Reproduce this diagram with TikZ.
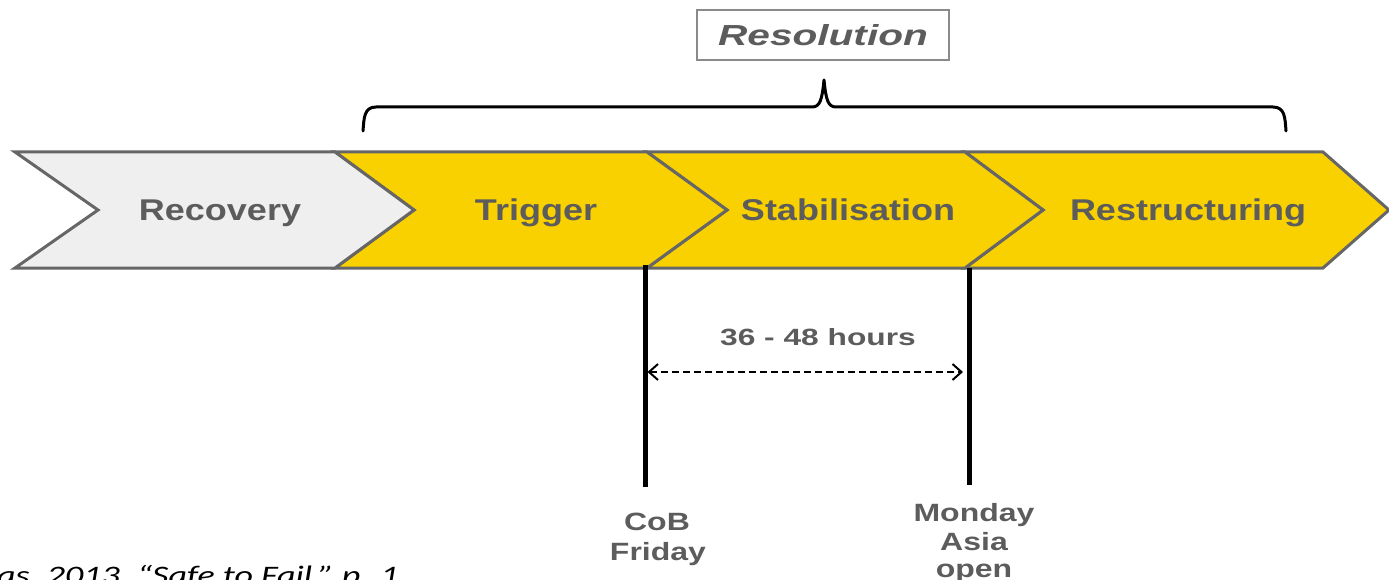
\documentclass[tikz,border=0pt]{standalone}
\usepackage{fontspec}
\usetikzlibrary{arrows.meta}
\newfontfamily\chevfont[FakeStretch=1.2]{Liberation Sans}
\newfontfamily\resfont[FakeStretch=1.4]{Liberation Sans}
\newfontfamily\hrsfont[FakeStretch=1.35]{Liberation Sans}
\newfontfamily\lblfont[FakeStretch=1.28]{Liberation Sans}
\newfontfamily\citefont[FakeStretch=1.35]{Carlito}
\definecolor{chevyellow}{HTML}{F9D000}
\definecolor{chevgrey}{HTML}{EFEFEF}
\definecolor{chevline}{HTML}{666666}
\definecolor{txtgrey}{HTML}{5C5C5C}
\definecolor{boxline}{HTML}{8A8A8A}
\tikzset{
  chevshape/.style={draw=chevline, line width=3pt, line join=miter},
  chevtext/.style={inner sep=0pt, anchor=base, text=txtgrey, font=\chevfont\bfseries\fontsize{30}{36}\selectfont},
  lbltext/.style={inner sep=0pt, anchor=base, text=txtgrey, font=\lblfont\bfseries\fontsize{25}{30}\selectfont},
  marker/.style={line width=5pt, black},
  bracepath/.style={line width=3pt, black, line cap=round, line join=round},
}
\begin{document}
\begin{tikzpicture}[x=1pt, y=-1pt]
\useasboundingbox (0,0) rectangle (1389,580);
\clip (0,0) rectangle (1389,580);
% chevrons, drawn right to left so the left one lies on top
\draw[chevshape, fill=chevyellow] (965,152) -- (1323,152) -- (1389,210) -- (1323,268) -- (965,268) -- (1043,210) -- cycle;
\draw[chevshape, fill=chevyellow] (647,152) -- (965,152) -- (1043,210) -- (965,268) -- (647,268) -- (727,210) -- cycle;
\draw[chevshape, fill=chevyellow] (335,152) -- (647,152) -- (727,210) -- (647,268) -- (335,268) -- (414,210) -- cycle;
\draw[chevshape, fill=chevgrey] (15,152) -- (335,152) -- (414,210) -- (335,268) -- (15,268) -- (98,210) -- cycle;
\node[chevtext] (recovery) at (220,221) {Recovery};
\node[chevtext] (trigger) at (536,221) {Trigger};
\node[chevtext] (stab) at (848,221) {Stabilisation};
\node[chevtext] (restr) at (1188,221) {Restructuring};
% resolution box and brace
\node[draw=boxline, line width=1.2pt, minimum width=252pt, minimum height=50pt, inner sep=0pt, text=txtgrey,
      font=\resfont\bfseries\itshape\fontsize{29}{34}\selectfont] (res) at (823,35) {Resolution};
\coordinate (bl) at (363,131);
\coordinate (br) at (1286,131);
\coordinate (bpeak) at (824,80);
\draw[bracepath] (bl) .. controls (364,118) and (364,107) .. (376,107) -- (812,107)
  .. controls (820,107) and (822,100) .. (bpeak)
  .. controls (826,100) and (828,107) .. (836,107) -- (1273,107)
  .. controls (1285,107) and (1285,118) .. (br);
% time markers
\coordinate (fritop) at (645,265);
\coordinate (fribot) at (645,487);
\coordinate (montop) at (969,268);
\coordinate (monbot) at (969,485);
\draw[marker] (fritop) -- (fribot);
\draw[marker] (montop) -- (monbot);
\coordinate (arrL) at (647.5,372);
\coordinate (arrR) at (963,372);
\draw[line width=2pt, dash pattern=on 7pt off 4pt, {Straight Barb[length=9pt,width=16pt,line width=2pt]}-{Straight Barb[length=9pt,width=16pt,line width=2pt]}] (arrL) -- (arrR);
\node[inner sep=0pt, anchor=base, text=txtgrey, font=\hrsfont\bfseries\fontsize{23.5}{28}\selectfont] (hours) at (818,345) {36 - 48 hours};
\node[lbltext] (cob) at (657,530) {CoB};
\node[lbltext] (friday) at (658,560) {Friday};
\node[lbltext] (monday) at (974,521) {Monday};
\node[lbltext] (asia) at (974,550) {Asia};
\node[lbltext] (open) at (974,577) {open};
% citation, clipped by the page edge as in the reference
\node[inner sep=0pt, anchor=base west, text=black, font=\citefont\itshape\fontsize{26.7}{30}\selectfont] (cite) at (-3,584) {as, 2013, “Safe to Fail,” p. 1};
\end{tikzpicture}
\end{document}
